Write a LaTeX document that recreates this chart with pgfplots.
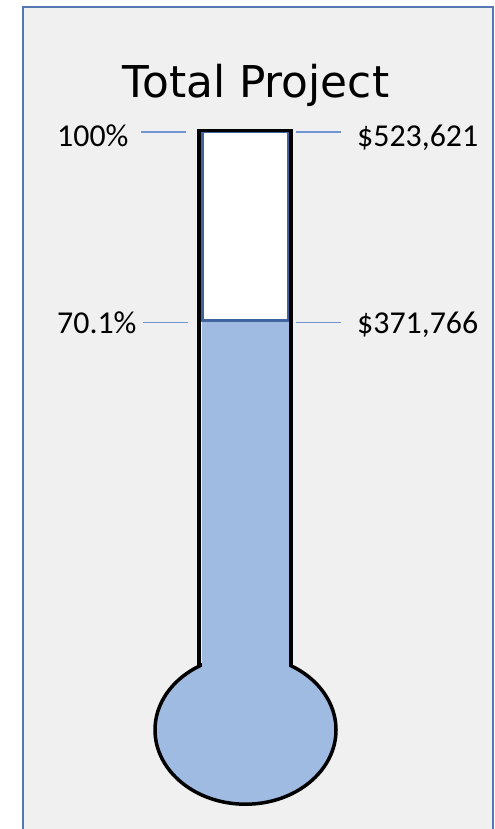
\documentclass[border=0pt]{standalone}
\usepackage{pgfplots}
\pgfplotsset{compat=1.18}
\usepackage{fontspec}
\setmainfont{Carlito}
\newfontfamily\titlefont{DejaVu Sans}
\definecolor{bgc}{HTML}{F0F0F0}
\definecolor{framec}{HTML}{5478B4}
\definecolor{fillc}{HTML}{A0BBE2}
\definecolor{boxc}{HTML}{41649E}
\definecolor{tickc}{HTML}{6F95D2}
\pgfplotsset{base/.style={scale only axis, width=495bp, height=829bp,
  xmin=0, xmax=495, ymin=-10.35, ymax=120.8, hide axis}}
\begin{document}
\begin{tikzpicture}
\begin{axis}[base]
% background frame
\addplot[fill=bgc, draw=framec, line width=2.5bp] coordinates {(23,-15) (23,119.7) (493,119.7) (493,-15)} -- cycle;
% bulb
\draw[fill=fillc, draw=black, line width=3.5bp] (axis cs:245.5,5.32) ellipse [x radius=90.5, y radius=11.75];
\end{axis}
\begin{axis}[base, ybar, bar width=88, bar shift=0pt]
% thermometer: achieved share
\addplot[fill=fillc, draw=none] coordinates {(245.5,70.1)};
\end{axis}
\begin{axis}[base]
% remaining share (70.1 -> 100)
\addplot[fill=white, draw=boxc, line width=2.5bp] coordinates {(202.5,70.1) (202.5,100) (288.5,100) (288.5,70.1)} -- cycle;
% tube outline
\addplot[black, line width=3.5bp, line join=miter] coordinates {(199,15.3) (199,100.15) (291,100.15) (291,15.3)};
% label leader lines
\addplot[tickc, line width=1.6bp] coordinates {(141,99.95) (186,99.95)};
\addplot[tickc, line width=1.6bp] coordinates {(296,99.95) (341,99.95)};
\addplot[tickc, line width=1.6bp] coordinates {(143,69.75) (188,69.75)};
\addplot[tickc, line width=1.6bp] coordinates {(296,69.8) (341,69.8)};
\node[anchor=base, inner sep=0pt, font=\titlefont\fontsize{44}{48}\selectfont] at (axis cs:256,105.45) {Total Project};
\node[anchor=base west, inner sep=0pt, font=\fontsize{32}{36}\selectfont] at (axis cs:57,97.7) {100\%};
\node[anchor=base west, inner sep=0pt, font=\fontsize{32}{36}\selectfont] at (axis cs:57,67.96) {70.1\%};
\node[anchor=base west, inner sep=0pt, font=\fontsize{32}{36}\selectfont] at (axis cs:357,97.7) {\$523,621};
\node[anchor=base west, inner sep=0pt, font=\fontsize{32}{36}\selectfont] at (axis cs:357,67.96) {\$371,766};
\end{axis}
\pgfresetboundingbox
\useasboundingbox (0,0) rectangle (495bp,829bp);
\end{tikzpicture}
\end{document}
